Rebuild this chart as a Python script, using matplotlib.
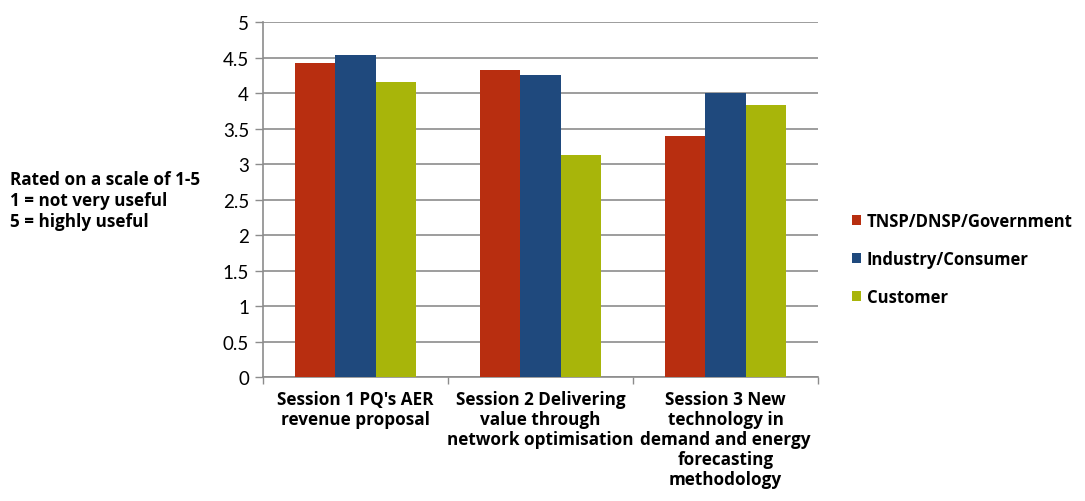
import numpy as np
import matplotlib
matplotlib.use("Agg")
import matplotlib.pyplot as plt

plt.rcParams['font.family'] = ['Lato', 'DejaVu Sans']
bold = ['Open Sans', 'DejaVu Sans']

# mean usefulness rating per session and stakeholder group
sessions = ["Session 1 PQ's AER\nrevenue proposal",
            "Session 2 Delivering\nvalue through\nnetwork optimisation",
            "Session 3 New\ntechnology in\ndemand and energy\nforecasting\nmethodology"]
groups = ["TNSP/DNSP/Government", "Industry/Consumer", "Customer"]
tnsp = [4.42, 4.33, 3.40]
industry = [4.54, 4.25, 4.00]
customer = [4.15, 3.13, 3.83]
colors = ["#B82E10", "#1F497D", "#A8B50A"]

fig = plt.figure(figsize=(10.85, 5.02), dpi=100)
ax = fig.add_axes([0.2424, 0.247, 0.5115, 0.707])

x = np.arange(len(sessions))
w = 0.217
for i, (vals, name) in enumerate(zip([tnsp, industry, customer], groups)):
    ax.bar(x + (i - 1) * w, vals, w, color=colors[i], label=name, zorder=3)

ax.set_xlim(-0.5, 2.5)
ax.set_ylim(0, 5)
ax.set_yticks(np.arange(0, 5.01, 0.5))
ax.set_yticklabels(["0", "0.5", "1", "1.5", "2", "2.5", "3", "3.5", "4", "4.5", "5"])
ax.grid(axis='y', color='#8C8C8C', linewidth=1.2, zorder=0)
ax.tick_params(axis='y', labelsize=13.5, length=6, width=1, color='#8C8C8C', pad=4)

# category ticks sit between the groups
ax.set_xticks([-0.5, 0.5, 1.5, 2.5])
ax.set_xticklabels([])
ax.tick_params(axis='x', length=5, width=1, color='#8C8C8C')
for xi, lab in zip(x, sessions):
    ax.text(xi, -0.18, lab, ha='center', va='top', fontsize=12.3, fontweight='bold',
            family=bold, linespacing=1.15)

for s in ['top', 'right']:
    ax.spines[s].set_visible(False)
for s in ['left', 'bottom']:
    ax.spines[s].set_color('#8C8C8C')
    ax.spines[s].set_linewidth(1.2)

fig.text(0.009, 0.600, "Rated on a scale of 1-5\n1 = not very useful\n5 = highly useful",
         ha='left', va='center', fontsize=12.3, fontweight='bold', family=bold,
         linespacing=1.2)

fig.legend(loc='center left', bbox_to_anchor=(0.771, 0.483), frameon=False,
           prop={'size': 12, 'weight': 'bold', 'family': bold},
           handlelength=0.55, handleheight=0.55, handletextpad=0.35, labelspacing=1.2)

fig.savefig("out.png", dpi=100)
